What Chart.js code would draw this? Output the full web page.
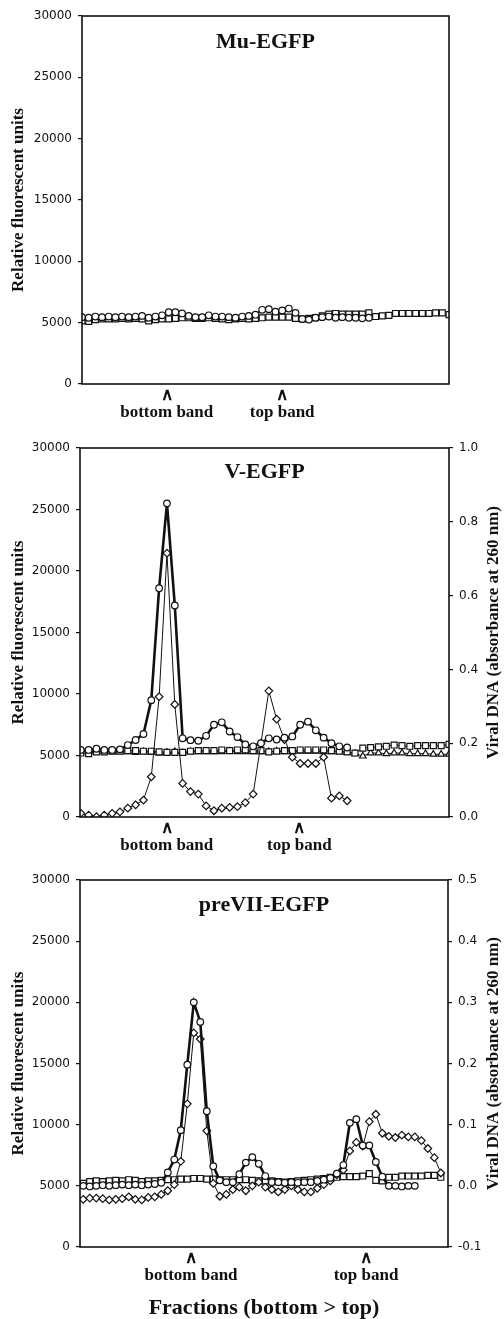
<!DOCTYPE html>
<html>
<head>
<meta charset="utf-8">
<script src="https://cdn.jsdelivr.net/npm/chart.js@4.4.0/dist/chart.umd.min.js"></script>
<style>
  html, body { margin: 0; padding: 0; background: #fff; }
  body { width: 504px; height: 1319px; position: relative; overflow: hidden; }
  canvas { position: absolute; left: 0; }
</style>
</head>
<body>
<canvas id="c1" width="504" height="426" style="top:0"></canvas>
<canvas id="c2" width="504" height="434" style="top:426px"></canvas>
<canvas id="c3" width="504" height="459" style="top:860px"></canvas>
<script>
// ---- data ----
const bandLabels = ['bottom band', 'top band'];

// Mu-EGFP
const muFractions = Array.from({ length: 56 }, (_, i) => i + 1);
const muBands = [13.7, 31.0];
const muCircles = [5450, 5400, 5500, 5450, 5500, 5450, 5500, 5450, 5500, 5550, 5400, 5500, 5600, 5850, 5850, 5750,
  5550, 5450, 5450, 5600, 5500, 5500, 5450, 5400, 5500, 5550, 5650, 6050, 6100, 5900, 6000, 6150, 5800, 5300, 5250,
  5400, 5450, 5500, 5400, 5450, 5400, 5400, 5350, 5400];
const muSquares = [5150, 5100, 5250, 5300, 5300, 5300, 5350, 5300, 5350, 5300, 5150, 5250, 5300, 5300, 5350, 5400,
  5400, 5350, 5350, 5400, 5350, 5300, 5250, 5300, 5350, 5300, 5350, 5400, 5450, 5450, 5450, 5450, 5350, 5300, 5350,
  5400, 5550, 5700, 5750, 5700, 5700, 5700, 5700, 5800, 5500, 5550, 5600, 5750, 5750, 5750, 5750, 5750, 5750, 5800,
  5800, 5650];

// V-EGFP
const vFractions = Array.from({ length: 48 }, (_, i) => i + 1);
const vBands = [11.97, 28.9];
const vCircles = [5450, 5450, 5550, 5450, 5450, 5500, 5850, 6260, 6750, 9500, 18600, 25500, 17200, 6400, 6250, 6200,
  6600, 7500, 7700, 6950, 6500, 5900, 5750, 6000, 6400, 6300, 6450, 6550, 7500, 7750, 7050, 6450, 6000, 5750, 5650];
const vDNA = [0.010, 0.005, 0.001, 0.005, 0.010, 0.014, 0.024, 0.033, 0.046, 0.109, 0.326, 0.715, 0.305, 0.091, 0.069,
  0.062, 0.030, 0.017, 0.024, 0.026, 0.028, 0.039, 0.062, 0.200, 0.342, 0.265, 0.210, 0.162, 0.145, 0.145, 0.145,
  0.162, 0.051, 0.057, 0.044];
const vSquares = [5200, 5150, 5300, 5300, 5350, 5350, 5400, 5400, 5350, 5350, 5300, 5250, 5250, 5250, 5350, 5400, 5400,
  5400, 5450, 5400, 5450, 5450, 5400, 5400, 5300, 5350, 5400, 5400, 5450, 5450, 5450, 5450, 5400, 5350, 5300, 5200,
  5600, 5650, 5700, 5750, 5850, 5800, 5750, 5800, 5800, 5800, 5800, 5900];
const vTriangles = [5300, 5350, 5300, 5300, 5300, 5300, 5300, 5250, 5300, 5250, 5200, 5250, 5300, 5200, 5300, 5300,
  5300, 5300, 5300, 5350, 5300, 5300, 5300, 5300, 5300, 5350, 5300, 5300, 5350, 5350, 5350, 5300, 5300, 5300, 5250,
  5150, 4950, 5200, 5200, 5150, 5200, 5200, 5150, 5150, 5150, 5100, 5100, 5100];

// preVII-EGFP
const preFractions = Array.from({ length: 56 }, (_, i) => i + 1);
const preBands = [17.58, 44.5];
const preCircles = [5000, 4950, 5000, 5050, 5000, 5050, 5100, 5050, 5100, 5050, 5100, 5150, 5250, 6100, 7150, 9550,
  14900, 20000, 18400, 11100, 6600, 5450, 5300, 5300, 5950, 6900, 7350, 6800, 5800, 5300, 5300, 5250, 5300, 5250,
  5300, 5300, 5400, 5500, 5650, 6000, 6700, 10150, 10450, 8300, 8300, 6950, 5750, 5000, 5000, 4950, 5000, 5000];
const preDNA = [-0.022, -0.020, -0.020, -0.021, -0.023, -0.022, -0.021, -0.018, -0.022, -0.023, -0.019, -0.018, -0.014,
  -0.008, 0.002, 0.040, 0.134, 0.250, 0.240, 0.090, 0.004, -0.017,
  -0.014, -0.006, -0.002, -0.008, 0.000, 0.006, -0.002, -0.006, -0.010, -0.006, 0.000, -0.006, -0.010, -0.010,
  -0.004, 0.002, 0.008,
  0.018, 0.026, 0.057, 0.071, 0.065, 0.105, 0.117, 0.086, 0.081, 0.079, 0.083, 0.080, 0.080, 0.074, 0.061, 0.046,
  0.021];
const preSquares = [5200, 5350, 5400, 5350, 5400, 5450, 5400, 5500, 5450, 5350, 5400, 5400, 5450, 5500, 5500, 5550,
  5550, 5600, 5600, 5550, 5550, 5500, 5500, 5500, 5500, 5500, 5450, 5400, 5400, 5400, 5350, 5300, 5350, 5400, 5450,
  5500, 5550, 5600, 5700, 5700, 5750, 5750, 5750, 5800, 6000, 5450, 5400, 5700, 5700, 5800, 5800, 5800, 5800, 5850,
  5850, 5700];

// ---- styling helpers ----
const INK = '#111';
const tickFont = { family: 'DejaVu Sans', size: 12 };
const serifBold = (size) => ({ family: 'Liberation Serif', size: size, weight: 'bold', lineHeight: 1 });

function line(data, pointStyle, borderWidth, radius, yAxisID) {
  return {
    data: data,
    yAxisID: yAxisID || 'y',
    borderColor: INK,
    borderWidth: borderWidth,
    pointStyle: pointStyle,
    pointRadius: radius,
    pointBackgroundColor: '#fff',
    pointBorderColor: INK,
    pointBorderWidth: 1.2,
    tension: 0,
    fill: false,
    spanGaps: false
  };
}

// box round the plot, title inside, right-hand title read bottom-to-top
const frame = {
  id: 'frame',
  afterDraw(chart, args, opts) {
    const { ctx, chartArea: a } = chart;
    ctx.save();
    ctx.strokeStyle = INK;
    ctx.lineWidth = 1.6;
    ctx.strokeRect(a.left, a.top, a.right - a.left, a.bottom - a.top);
    ctx.fillStyle = INK;
    ctx.textAlign = 'center';
    ctx.textBaseline = 'middle';
    ctx.font = 'bold 22px "Liberation Serif"';
    ctx.fillText(opts.title, (a.left + a.right) / 2, a.top + opts.titleDy);
    if (opts.rightTitle) {
      ctx.translate(opts.rightX, (a.top + a.bottom) / 2);
      ctx.rotate(-Math.PI / 2);
      ctx.font = 'bold 17px "Liberation Serif"';
      ctx.fillText(opts.rightTitle, 0, 0);
    }
    ctx.restore();
  }
};

function makePanel(id, p) {
  const canvas = document.getElementById(id);
  const scales = {
    x: {
      type: 'linear',
      min: p.xMin,
      max: p.xMax,
      grid: { display: false, drawTicks: false },
      border: { display: false },
      afterBuildTicks: (axis) => { axis.ticks = p.bands.map(v => ({ value: v })); },
      afterFit: (axis) => { axis.height = p.xHeight; },
      ticks: {
        autoSkip: false,
        maxRotation: 0,
        padding: 3,
        color: INK,
        font: serifBold(17),
        callback: (v, i) => ['\u2227', bandLabels[i]]
      },
      title: p.xTitle ? {
        display: true,
        text: p.xTitle,
        color: INK,
        font: serifBold(22),
        padding: { top: 0, bottom: 0 }
      } : { display: false }
    },
    y: {
      position: 'left',
      min: 0,
      max: 30000,
      afterFit: (axis) => { axis.width = p.leftWidth; },
      grid: { drawOnChartArea: false, tickLength: 4, color: INK, lineWidth: 1.2 },
      border: { display: false },
      ticks: { stepSize: 5000, padding: 6, color: INK, font: tickFont, callback: v => String(v) },
      title: {
        display: true,
        text: 'Relative fluorescent units',
        color: INK,
        font: { family: 'Liberation Serif', size: 17, weight: 'bold' },
        padding: { top: 8, bottom: 0 }
      }
    }
  };
  if (p.right) {
    scales.y2 = {
      position: 'right',
      min: p.right.min,
      max: p.right.max,
      afterFit: (axis) => { axis.width = 504 - p.plotRight; },
      grid: { drawOnChartArea: false, tickLength: 4, color: INK, lineWidth: 1.2 },
      border: { display: false },
      ticks: {
        stepSize: p.right.step, padding: 6, color: INK, font: tickFont,
        callback: v => (Math.abs(v) < 1e-9 ? 0 : v).toFixed(1)
      }
    };
  }
  return new Chart(canvas.getContext('2d'), {
    type: 'line',
    data: { labels: p.labels, datasets: p.datasets },
    options: {
      responsive: false,
      animation: false,
      events: [],
      layout: { padding: { top: p.top, right: p.right ? 0 : 504 - p.plotRight, bottom: 0, left: 0 } },
      scales: scales,
      plugins: {
        legend: { display: false },
        tooltip: { enabled: false },
        frame: { title: p.title, titleDy: p.titleDy, rightTitle: p.right ? 'Viral DNA (absorbance at 260 nm)' : null, rightX: 494 }
      }
    },
    plugins: [frame]
  });
}

makePanel('c1', {
  title: 'Mu-EGFP', titleDy: 26, top: 16, xHeight: 42, leftWidth: 82, plotRight: 449,
  labels: muFractions, xMin: 1, xMax: 56, bands: muBands,
  datasets: [
    line(muCircles, 'circle', 1.5, 3.3),
    line(muSquares, 'rect', 1, 4.2)
  ]
});

makePanel('c2', {
  title: 'V-EGFP', titleDy: 24, top: 22, xHeight: 43, leftWidth: 80, plotRight: 449,
  labels: vFractions, xMin: 0.9, xMax: 48, bands: vBands,
  right: { min: 0, max: 1, step: 0.2 },
  datasets: [
    line(vCircles, 'circle', 2.6, 3.3),
    line(vDNA, 'rectRot', 1, 3.8, 'y2'),
    line(vSquares, 'rect', 1, 4.2),
    line(vTriangles, 'triangle', 1, 3.8)
  ]
});

makePanel('c3', {
  title: 'preVII-EGFP', titleDy: 25, top: 20, xHeight: 72, leftWidth: 80, plotRight: 448,
  labels: preFractions, xMin: 0.5, xMax: 57.1, bands: preBands,
  right: { min: -0.1, max: 0.5, step: 0.1 },
  xTitle: 'Fractions (bottom > top)',
  datasets: [
    line(preCircles, 'circle', 2.6, 3.3),
    line(preDNA, 'rectRot', 1, 3.8, 'y2'),
    line(preSquares, 'rect', 1, 4.2)
  ]
});
</script>
</body>
</html>
